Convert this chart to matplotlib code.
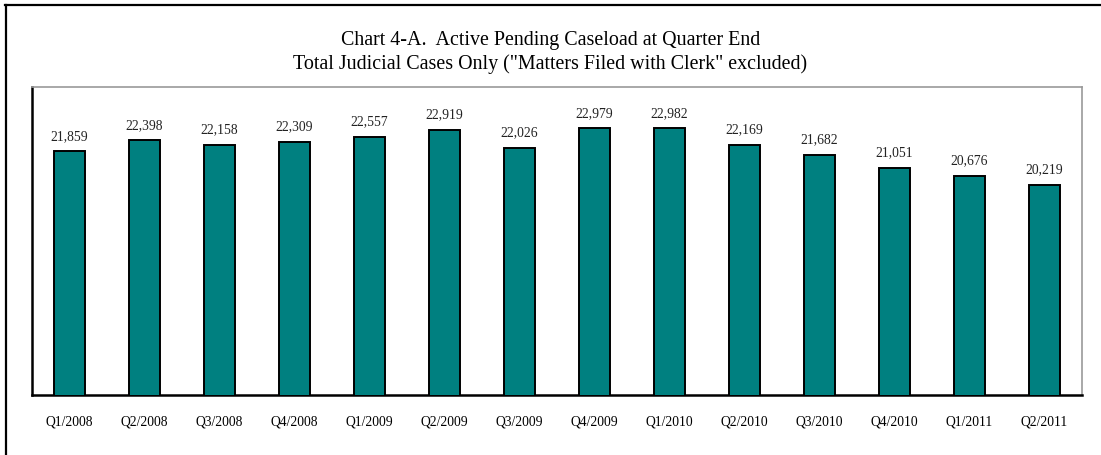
import matplotlib.pyplot as plt
from matplotlib.lines import Line2D

# ─── Data ───────────────────────────────────────────────────────────────────

QUARTERS = ["Q1/2008", "Q2/2008", "Q3/2008", "Q4/2008",
            "Q1/2009", "Q2/2009", "Q3/2009", "Q4/2009",
            "Q1/2010", "Q2/2010", "Q3/2010", "Q4/2010",
            "Q1/2011", "Q2/2011"]
CASELOAD = [21859, 22398, 22158, 22309, 22557, 22919, 22026,
            22979, 22982, 22169, 21682, 21051, 20676, 20219]

TITLE = ("Chart 4-A.  Active Pending Caseload at Quarter End\n"
         "Total Judicial Cases Only (\"Matters Filed with Clerk\" excluded)")

# ─── Plotting ───────────────────────────────────────────────────────────────

plt.rcParams["font.family"] = ["Liberation Serif", "DejaVu Serif"]

fig = plt.figure(figsize=(11.01, 4.56), dpi=100)
ax = fig.add_axes([32 / 1101, 1 - 396 / 456, 1050 / 1101, 308 / 456])

x = range(len(QUARTERS))
bars = ax.bar(x, CASELOAD, width=0.41, color="#008080",
              edgecolor="black", linewidth=1.4, zorder=3)

for b, v in zip(bars, CASELOAD):
    ax.annotate(f"{v:,}", (b.get_x() + b.get_width() / 2, v),
                xytext=(0, 7), textcoords="offset points",
                ha="center", va="bottom", fontsize=9.8, color="#222222")

ax.set_xlim(-0.5, len(QUARTERS) - 0.5)
ax.set_ylim(10000, 25000)
ax.set_yticks([])
ax.set_xticks(list(x))
ax.set_xticklabels(QUARTERS, fontsize=9.8)
ax.tick_params(axis="x", length=0, pad=14)

for side in ("left", "bottom"):
    ax.spines[side].set_color("black")
    ax.spines[side].set_linewidth(1.8)
for side in ("top", "right"):
    ax.spines[side].set_color("#999999")
    ax.spines[side].set_linewidth(1.2)

fig.text(0.5, 1 - 52.5 / 456, TITLE, ha="center", va="center",
         fontsize=14.4, linespacing=1.3)

# outer frame (top and left edges visible)
fig.add_artist(Line2D([5 / 1101, 1], [1 - 6 / 456, 1 - 6 / 456],
                      transform=fig.transFigure, color="black", lw=1.6))
fig.add_artist(Line2D([6 / 1101, 6 / 1101], [0, 1 - 6 / 456],
                      transform=fig.transFigure, color="black", lw=1.6))

fig.savefig("out.png", dpi=100)
